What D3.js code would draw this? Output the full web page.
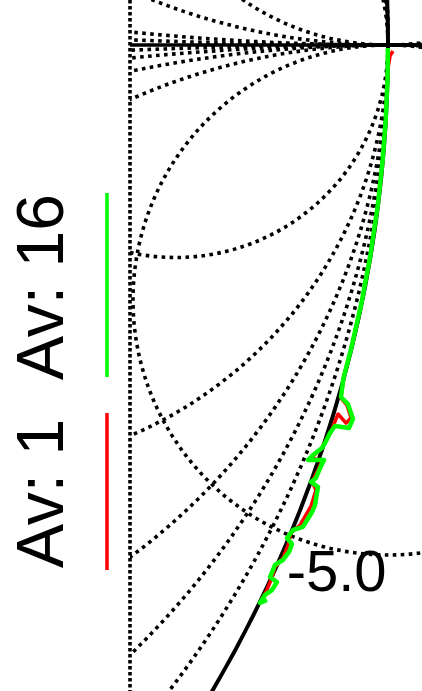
<!DOCTYPE html>
<html><head><meta charset="utf-8">
<script src="https://cdn.jsdelivr.net/npm/d3@7"></script>
<style>html,body{margin:0;padding:0;background:#fff;overflow:hidden}</style>
</head><body><svg id="chart" width="422" height="691"></svg>
<script>
// ---- data ----
const resistanceValues = [0.2, 0.5, 1, 2, 5];
const reactanceValues = [0.2, 0.5, 2, 5, -0.2, -0.5, -1, -2, -5];
const reactanceLabelValues = [-5];
const seriesNames = ["Av: 1", "Av: 16"];

// reflection coefficient, real / imaginary parts
const av1Re = [1.0039, 1.0016, 0.9998, 0.9982, 0.9958, 0.9920, 0.9862, 0.9792, 0.9712, 0.9651,
  0.9631, 0.9678, 0.9710, 0.9671, 0.9608, 0.9553, 0.9475, 0.9396, 0.9482, 0.9451, 0.9404,
  0.9435, 0.9396, 0.9310, 0.9239, 0.9216, 0.9176, 0.9114, 0.9082, 0.9043, 0.9004];
const av1Im = [-0.0047, -0.0086, -0.0196, -0.0588, -0.0902, -0.1255, -0.1647, -0.2024, -0.2376, -0.2612,
  -0.2769, -0.2824, -0.2925, -0.2965, -0.2894, -0.3035, -0.3169, -0.3239, -0.3263, -0.3333, -0.3427,
  -0.3490, -0.3616, -0.3765, -0.3827, -0.3922, -0.4024, -0.4094, -0.4196, -0.4290, -0.4361];

const av16Re = [0.9999, 0.9996, 0.9982, 0.9958, 0.9920, 0.9862, 0.9792, 0.9712, 0.9651,
  0.9631, 0.9686, 0.9725, 0.9694, 0.9584, 0.9545, 0.9514, 0.9482, 0.9412, 0.9373, 0.9498,
  0.9467, 0.9435, 0.9396, 0.9451, 0.9427, 0.9404, 0.9333, 0.9255, 0.9208, 0.9247, 0.9224,
  0.9176, 0.9114, 0.9075, 0.9129, 0.9090, 0.9035, 0.8996, 0.9051];
const av16Im = [-0.0024, -0.0275, -0.0588, -0.0902, -0.1255, -0.1647, -0.2024, -0.2376, -0.2612,
  -0.2761, -0.2816, -0.2933, -0.3004, -0.2988, -0.3043, -0.3106, -0.3161, -0.3216, -0.3255, -0.3255,
  -0.3318, -0.3396, -0.3427, -0.3467, -0.3608, -0.3663, -0.3780, -0.3804, -0.3867, -0.3914, -0.3976,
  -0.4039, -0.4078, -0.4173, -0.4212, -0.4275, -0.4314, -0.4376, -0.4353];

// ---- layout ----
const W = 422, H = 691;
const svg = d3.select("#chart");
svg.append("rect").attr("width", W).attr("height", H).attr("fill", "#fff");

const x = d3.scaleLinear().domain([1 - 388 / 1275, 1 + 34 / 1275]).range([0, W]);
const y = d3.scaleLinear().domain([45 / 1275, -646 / 1275]).range([0, H]);
const rad = v => Math.abs(x(v) - x(0));
const clipLeft = 130;

svg.append("clipPath").attr("id", "plotclip")
  .append("rect").attr("x", clipLeft).attr("y", 0).attr("width", W - clipLeft).attr("height", H);

const grid = svg.append("g").attr("clip-path", "url(#plotclip)");
const dotted = { stroke: "#000", "stroke-width": 3.6, "stroke-dasharray": "3.6,4.4", fill: "none" };
const applyStyle = (sel, st) => { Object.entries(st).forEach(([k, v]) => sel.attr(k, v)); return sel; };

// resistance circles
applyStyle(grid.selectAll("circle.r").data(resistanceValues).enter().append("circle")
  .attr("class", "r")
  .attr("cx", r => x(r / (1 + r)))
  .attr("cy", y(0))
  .attr("r", r => rad(1 / (1 + r))), dotted);

// reactance circles
applyStyle(grid.selectAll("circle.xa").data(reactanceValues).enter().append("circle")
  .attr("class", "xa")
  .attr("cx", x(1))
  .attr("cy", v => y(1 / v))
  .attr("r", v => rad(1 / Math.abs(v))), dotted);

// left dotted border
svg.append("line").attr("x1", clipLeft).attr("x2", clipLeft).attr("y1", 0).attr("y2", H)
  .attr("stroke", "#000").attr("stroke-width", 3.6).attr("stroke-dasharray", "3.5,2.5");

// real axis
grid.append("line").attr("x1", clipLeft).attr("x2", x(1)).attr("y1", y(0)).attr("y2", y(0))
  .attr("stroke", "#000").attr("stroke-width", 3.5);

// unit circle
grid.append("circle").attr("cx", x(0)).attr("cy", y(0)).attr("r", rad(1))
  .attr("fill", "none").attr("stroke", "#000").attr("stroke-width", 4);

// reactance labels
reactanceLabelValues.forEach(v => {
  const gr = (v * v - 1) / (v * v + 1), gi = 2 * v / (v * v + 1);
  svg.append("text")
    .attr("x", x(gr * 1.01) - 15)
    .attr("y", y(gi * 1.01) + 51)
    .attr("font-family", "'Liberation Sans', Arial, sans-serif")
    .attr("font-size", 58)
    .attr("fill", "#000")
    .text(v.toFixed(1));
});

// data
const line = d3.line().x(d => x(d[0])).y(d => y(d[1]));
const series = [
  { name: seriesNames[0], pts: d3.zip(av1Re, av1Im), color: "#ff0000", w: 3.5 },
  { name: seriesNames[1], pts: d3.zip(av16Re, av16Im), color: "#00ff00", w: 4.5 }
];
series.forEach(s => {
  svg.append("path").attr("d", line(s.pts)).attr("fill", "none")
    .attr("stroke", s.color).attr("stroke-width", s.w)
    .attr("stroke-linejoin", "round").attr("stroke-linecap", "butt");
});

// legend (rotated)
const legendPos = [{ start: 568, lineTop: 413, lineBot: 570 }, { start: 380, lineTop: 193, lineBot: 377 }];
series.forEach((s, i) => {
  const p = legendPos[i];
  svg.append("text")
    .attr("transform", `translate(63,${p.start}) rotate(-90)`)
    .attr("font-family", "'Liberation Sans', Arial, sans-serif")
    .attr("font-size", 66)
    .attr("fill", "#000")
    .text(s.name);
  svg.append("line").attr("x1", 107).attr("x2", 107).attr("y1", p.lineTop).attr("y2", p.lineBot)
    .attr("stroke", s.color).attr("stroke-width", 3.5);
});
</script></body></html>
